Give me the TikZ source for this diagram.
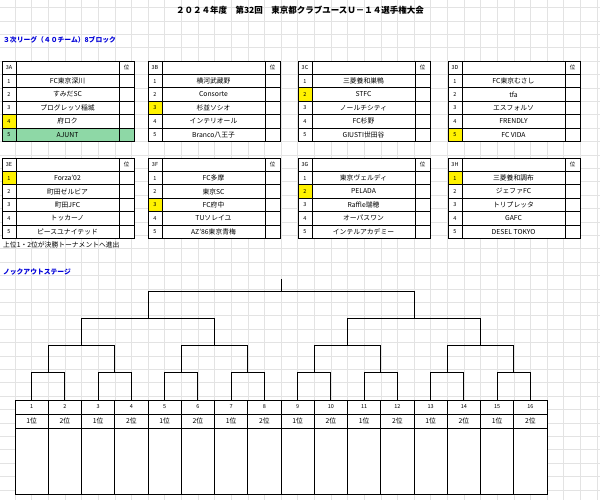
\documentclass[tikz,border=0pt]{standalone}
\usepackage{fontspec}
\setmainfont{Noto Sans CJK JP}
\definecolor{grn}{HTML}{8ED8A6}
\begin{document}
\begin{tikzpicture}[x=1pt,y=-1pt]
\tikzset{tb/.style={line width=0.9pt},
 tt/.style={font=\fontsize{6.8}{7}\selectfont, inner sep=0},
 hd/.style={font=\fontsize{6.8}{7}\selectfont\bfseries, text=blue!85!black, inner sep=0, anchor=west},
 br/.style={line width=0.8pt}}
\useasboundingbox (0,0) rectangle (600,500);
\fill[white] (0,0) rectangle (600,500);
% grid
\foreach \i in {0,...,36} \draw[gray!22, line width=0.4pt] ({15+16.625*\i-16.625},0) -- ({15+16.625*\i-16.625},500);
\foreach \j in {0,...,37} \draw[gray!22, line width=0.4pt] (0,{7.4+13.4*\j}) -- (600,{7.4+13.4*\j});
\node[font=\fontsize{8.5}{9}\selectfont\bfseries, inner sep=0] (title) at (300,10) {２０２４年度　第32回　東京都クラブユースＵ－１４選手権大会};
\node[hd] (sub) at (3,40) {３次リーグ（４０チーム）8ブロック};
\newcommand\blk[9]{%
\begin{scope}[shift={(#1,#2)}]
 \fill[white] (0,0) rectangle (132,80.4);
 \ifnum#9>0 \fill[yellow] (0,{13.4*#9}) rectangle (14,{13.4*(#9+1)});\fi
 \ifnum#9=-4 \fill[yellow] (0,53.6) rectangle (14,67); \fill[grn] (0,67) rectangle (132,80.4);\fi
 \draw[tb] (0,0) rectangle (132,80.4);
 \foreach \r in {1,...,5} \draw[tb] (0,{13.4*\r}) -- (132,{13.4*\r});
 \draw[tb] (14,0) -- (14,80.4) (117,0) -- (117,80.4);
 \node[tt] (l#3) at (7,6.7) {\fontsize{5.5}{6}\selectfont #3};
 \node[tt] (p#3) at (124.5,6.7) {\fontsize{5.5}{6}\selectfont 位};
 \foreach \r/\n in {1/#4,2/#5,3/#6,4/#7,5/#8} {
  \node[tt] (n#3\r) at (7,{13.4*\r+6.7}) {\fontsize{5.5}{6}\selectfont\r};
  \node[tt] (t#3\r) at (65.5,{13.4*\r+6.7}) {\n};}
\end{scope}}
\blk{2}{61}{3A}{FC東京深川}{すみだSC}{プログレッソ稲城}{府ロク}{AJUNT}{-4}
\blk{148}{61}{3B}{横河武蔵野}{Consorte}{杉並ソシオ}{インテリオール}{Branco八王子}{3}
\blk{298}{61}{3C}{三菱養和巣鴨}{STFC}{ノールチシティ}{FC杉野}{GIUSTI世田谷}{2}
\blk{448}{61}{3D}{FC東京むさし}{tfa}{エスフォルソ}{FRENDLY}{FC VIDA}{5}
\blk{2}{158}{3E}{Forza'02}{町田ゼルビア}{町田JFC}{トッカーノ}{ピースユナイテッド}{1}
\blk{148}{158}{3F}{FC多摩}{東京SC}{FC府中}{TUソレイユ}{AZ'86東京青梅}{3}
\blk{298}{158}{3G}{東京ヴェルディ}{PELADA}{Raffle瑞穂}{オーパスワン}{インテルアカデミー}{2}
\blk{448}{158}{3H}{三菱養和調布}{ジェファFC}{トリプレッタ}{GAFC}{DESEL TOKYO}{1}
\node[tt, anchor=west] (note) at (3,245) {上位1・2位が決勝トーナメントへ進出};
\node[hd] (ko) at (3,272) {ノックアウトステージ};
% bracket
\foreach \L/\ya/\yb in {1/400/372,2/372/345,3/345/318,4/318/291} {
 \pgfmathtruncatemacro\sz{2^\L}
 \pgfmathtruncatemacro\ng{16/\sz-1}
 \foreach \g in {0,...,\ng} {
  \pgfmathsetmacro\xl{15+33.25*(\g*\sz+\sz/4)}
  \pgfmathsetmacro\xr{15+33.25*(\g*\sz+3*\sz/4)}
  \draw[br] (\xl,\ya) -- (\xl,\yb) -- (\xr,\yb) -- (\xr,\ya);
 }}
\coordinate (top) at (281,279);
\coordinate (topb) at (281,291);
\draw[br] (topb) -- (top);
% bottom table
\fill[white] (15,400) rectangle (547,494);
\draw[tb] (15,400) rectangle (547,494) (15,414) -- (547,414) (15,428) -- (547,428);
\foreach \i in {1,...,15} \draw[tb] ({15+33.25*\i},400) -- ({15+33.25*\i},494);
\foreach \i in {1,...,16} {
 \pgfmathtruncatemacro\od{mod(\i,2)}
 \node[tt] (k\i) at ({15+33.25*(\i-0.5)},407) {\fontsize{5.5}{6}\selectfont\i};
 \node[tt] (r\i) at ({15+33.25*(\i-0.5)},421) {\ifnum\od=1 1位\else 2位\fi};}
\end{tikzpicture}
\end{document}
